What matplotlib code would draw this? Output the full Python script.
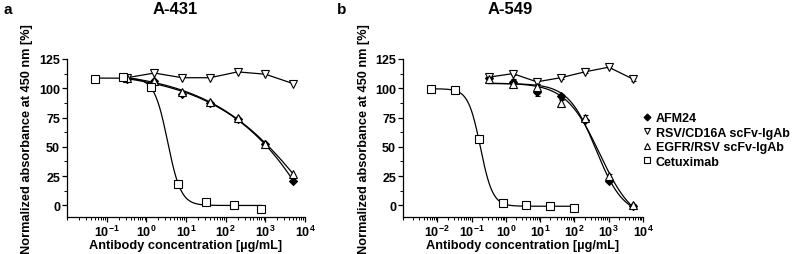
import numpy as np
import matplotlib
matplotlib.use("Agg")
import matplotlib.pyplot as plt
from matplotlib.ticker import LogLocator, NullFormatter, FixedLocator
from matplotlib.lines import Line2D

plt.rcParams['font.family'] = ['Liberation Sans', 'DejaVu Sans']
plt.rcParams['font.weight'] = 'bold'
plt.rcParams['mathtext.fontset'] = 'custom'
plt.rcParams['mathtext.rm'] = 'Liberation Sans:bold'
plt.rcParams['mathtext.bf'] = 'Liberation Sans:bold'
plt.rcParams['mathtext.it'] = 'Liberation Sans:bold'

# ---------------- data ----------------
series_names = ["AFM24", "RSV/CD16A scFv-IgAb", "EGFR/RSV scFv-IgAb", "Cetuximab"]

conc_igab = [0.32, 1.6, 8, 40, 200, 1000, 5000]
conc_cet_a = [0.0512, 0.256, 1.28, 6.4, 32, 160, 800]
conc_cet_b = [0.0064, 0.032, 0.16, 0.8, 4, 20, 100]

a_afm24 = [108, 106, 95, 87, 74, 52, 21]
a_rsv_cd16a = [109, 113, 109, 109, 114, 112, 104]
a_egfr_rsv = [108.5, 106.5, 97, 88, 74.5, 52.5, 27]
a_cetux = [107.7, 109.5, 101, 18, 3, 0, -3]

b_afm24 = [109, 105.5, 97, 93, 72.5, 21, -0.5]
b_afm24_err = [1.5, 2, 4, 2, 1.5, 1.5, 1]
b_rsv_cd16a = [109.5, 112.5, 105.5, 109, 114, 118, 108]
b_rsv_cd16a_err = [1, 1.5, 1.5, 1, 1, 1, 2]
b_egfr_rsv = [107.5, 104, 101, 87, 75, 25, 0]
b_egfr_rsv_err = [1, 3, 3, 3, 2, 2, 1]
b_cetux = [99.2, 98.5, 57, 2, 0, -0.5, -2]

titles = ["A-431", "A-549"]
panel_letters = ["a", "b"]
xlims = [(0.01, 1e4), (0.001, 1e4)]
xlabel_decades = [[-1, 0, 1, 2, 3, 4], [-2, -1, 0, 1, 2, 3, 4]]


def _grid_fit(lx, y, lc_grid, h_grid):
    LC, H = np.meshgrid(lc_grid, h_grid, indexing='ij')
    F = 1.0 / (1.0 + 10 ** ((lx[None, None, :] - LC[..., None]) * H[..., None]))
    G = 1.0 - F
    a11 = (F * F).sum(-1); a12 = (F * G).sum(-1); a22 = (G * G).sum(-1)
    b1 = (F * y).sum(-1); b2 = (G * y).sum(-1)
    det = a11 * a22 - a12 * a12
    det = np.where(np.abs(det) < 1e-12, np.nan, det)
    top = (b1 * a22 - b2 * a12) / det
    bot = (a11 * b2 - a12 * b1) / det
    res = ((top[..., None] * F + bot[..., None] * G - y) ** 2).sum(-1)
    res = np.where(np.isfinite(res), res, np.inf)
    i0, i1 = np.unravel_index(np.argmin(res), res.shape)
    return lc_grid[i0], h_grid[i1], top[i0, i1], bot[i0, i1]


def fit4pl(x, y):
    """4-parameter logistic fit: grid search over EC50/Hill, linear LS for top/bottom."""
    lx = np.log10(np.asarray(x, float))
    y = np.asarray(y, float)
    lc, h, _, _ = _grid_fit(lx, y, np.arange(-4, 7, 0.02), np.arange(0.2, 6, 0.02))
    lc, h, top, bot = _grid_fit(lx, y, np.arange(lc - 0.05, lc + 0.05, 0.001),
                                np.arange(max(0.05, h - 0.05), h + 0.05, 0.001))
    return lambda xx: bot + (top - bot) / (1 + 10 ** ((np.log10(xx) - lc) * h))


fig = plt.figure(figsize=(8, 2.55), dpi=100)
axes = [fig.add_axes([67 / 800, 37 / 255, 238 / 800, 158 / 255]),
        fig.add_axes([403 / 800, 37 / 255, 240 / 800, 158 / 255])]

panels = [
    dict(afm=a_afm24, afm_err=None, rsv=a_rsv_cd16a, rsv_err=None, egfr=a_egfr_rsv, egfr_err=None,
         cet=a_cetux, cet_x=conc_cet_a),
    dict(afm=b_afm24, afm_err=b_afm24_err, rsv=b_rsv_cd16a, rsv_err=b_rsv_cd16a_err,
         egfr=b_egfr_rsv, egfr_err=b_egfr_rsv_err, cet=b_cetux, cet_x=conc_cet_b),
]

lw = 0.9
mkc = dict(color='black', markeredgecolor='black', markeredgewidth=0.8)
eb = dict(ecolor='black', elinewidth=0.8, capsize=1.8, capthick=0.8, zorder=3)

for k, (ax, p) in enumerate(zip(axes, panels)):
    # fitted curves
    for xs, ys in [(conc_igab, p['afm']), (conc_igab, p['egfr']), (p['cet_x'], p['cet'])]:
        f = fit4pl(xs, ys)
        xx = np.logspace(np.log10(xs[0]), np.log10(xs[-1]), 400)
        ax.plot(xx, f(xx), color='black', lw=lw, zorder=2)
    # RSV/CD16A connected by straight lines
    ax.plot(conc_igab, p['rsv'], color='black', lw=lw, zorder=2)

    ax.errorbar(conc_igab, p['afm'], yerr=p['afm_err'], fmt='D', markersize=3.8,
                markerfacecolor='black', **mkc, **eb)
    ax.errorbar(conc_igab, p['rsv'], yerr=p['rsv_err'], fmt='v', markersize=5.5,
                markerfacecolor='white', **mkc, **eb)
    ax.errorbar(conc_igab, p['egfr'], yerr=p['egfr_err'], fmt='^', markersize=5.5,
                markerfacecolor='white', **mkc, **eb)
    ax.plot(p['cet_x'], p['cet'], marker='s', markersize=5.2, markerfacecolor='white',
            linestyle='none', zorder=4, **mkc)

    ax.set_xscale('log')
    ax.set_xlim(*xlims[k])
    ax.set_ylim(-10, 125)
    ax.yaxis.set_major_locator(FixedLocator([0, 25, 50, 75, 100, 125]))
    ax.yaxis.set_minor_locator(FixedLocator(np.arange(0, 126, 12.5)))
    dec = xlabel_decades[k]
    ax.xaxis.set_major_locator(FixedLocator([10.0 ** d for d in dec]))
    ax.set_xticklabels([r'$\mathbf{10^{%d}}$' % d for d in dec])
    ax.xaxis.set_minor_locator(LogLocator(base=10, subs=np.arange(1, 10), numticks=30))
    ax.xaxis.set_minor_formatter(NullFormatter())
    for s in ['top', 'right']:
        ax.spines[s].set_visible(False)
    for s in ['left', 'bottom']:
        ax.spines[s].set_linewidth(0.9)
    ax.tick_params(which='major', length=3.5, width=0.9, labelsize=9, pad=1.5)
    ax.tick_params(which='minor', length=2, width=0.7)
    for lab in ax.get_yticklabels():
        lab.set_fontweight('bold')
    ax.set_xlabel('Antibody concentration [µg/mL]', fontsize=9.2, fontweight='bold', labelpad=0)
    ax.set_ylabel('Normalized absorbance at 450 nm [%]', fontsize=9.2, fontweight='bold', labelpad=4)

fig.text(175 / 800, 1 - 10 / 255, titles[0], ha='center', va='center', fontsize=12, fontweight='bold')
fig.text(510 / 800, 1 - 10 / 255, titles[1], ha='center', va='center', fontsize=12, fontweight='bold')
fig.text(3 / 800, 1 - 10 / 255, panel_letters[0], ha='left', va='center', fontsize=11, fontweight='bold')
fig.text(337 / 800, 1 - 10 / 255, panel_letters[1], ha='left', va='center', fontsize=11, fontweight='bold')

handles = [
    Line2D([], [], marker='D', markersize=3.5, markerfacecolor='black', linestyle='none', **mkc),
    Line2D([], [], marker='v', markersize=5, markerfacecolor='white', linestyle='none', **mkc),
    Line2D([], [], marker='^', markersize=5, markerfacecolor='white', linestyle='none', **mkc),
    Line2D([], [], marker='s', markersize=4.8, markerfacecolor='white', linestyle='none', **mkc),
]
fig.legend(handles, series_names, loc='center left', bbox_to_anchor=(644 / 800, 1 - 141 / 255),
           frameon=False, handlelength=0.5, handletextpad=0.45, labelspacing=0.2,
           borderpad=0, borderaxespad=0, prop=dict(weight='bold', size=9.0))

fig.savefig('out.png', dpi=100)
